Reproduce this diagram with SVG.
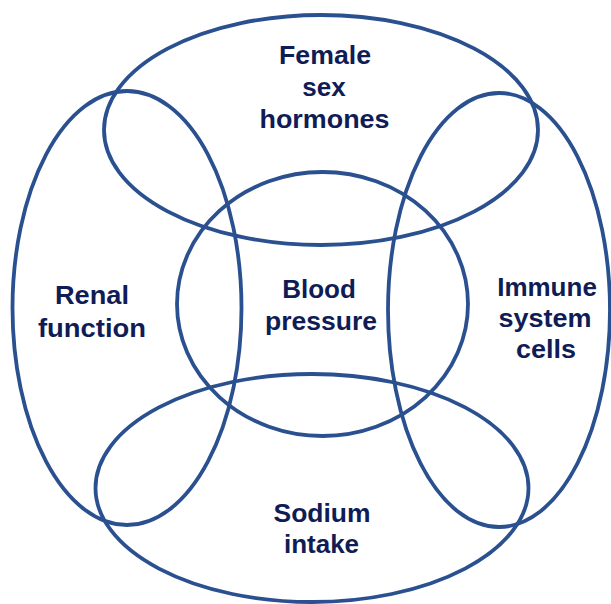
<svg xmlns="http://www.w3.org/2000/svg" width="611" height="604" viewBox="0 0 611 604">
<style>
.ring{fill:none;stroke:#2A5090;stroke-width:3.8}
.lbl{font-family:"Liberation Sans",Arial,sans-serif;font-weight:bold;font-size:26px;fill:#0F1C55;text-anchor:middle}
</style>
<rect width="611" height="604" fill="#ffffff"/>
<g id="female-sex-hormones">
<ellipse class="ring" cx="321" cy="130" rx="217" ry="115"/>
<text class="lbl" x="325" y="64" textLength="92" lengthAdjust="spacingAndGlyphs">Female</text>
<text class="lbl" x="324" y="96">sex</text>
<text class="lbl" x="324.5" y="128" textLength="130" lengthAdjust="spacingAndGlyphs">hormones</text>
</g>
<g id="renal-function">
<ellipse class="ring" cx="127" cy="308" rx="114.5" ry="217"/>
<text class="lbl" x="92" y="304" textLength="74" lengthAdjust="spacingAndGlyphs">Renal</text>
<text class="lbl" x="92" y="337" textLength="108" lengthAdjust="spacingAndGlyphs">function</text>
</g>
<g id="immune-system-cells">
<ellipse class="ring" cx="499" cy="310" rx="111" ry="217"/>
<text class="lbl" x="547" y="296">Immune</text>
<text class="lbl" x="545" y="327" textLength="93" lengthAdjust="spacingAndGlyphs">system</text>
<text class="lbl" x="546" y="358" textLength="60" lengthAdjust="spacingAndGlyphs">cells</text>
</g>
<g id="sodium-intake">
<ellipse class="ring" cx="312" cy="488" rx="216.5" ry="114"/>
<text class="lbl" x="322" y="522" textLength="97" lengthAdjust="spacingAndGlyphs">Sodium</text>
<text class="lbl" x="321.5" y="553">intake</text>
</g>
<g id="blood-pressure">
<ellipse class="ring" cx="322.5" cy="304" rx="145.5" ry="132"/>
<text class="lbl" x="319" y="298">Blood</text>
<text class="lbl" x="321" y="330" textLength="112" lengthAdjust="spacingAndGlyphs">pressure</text>
</g>
</svg>
